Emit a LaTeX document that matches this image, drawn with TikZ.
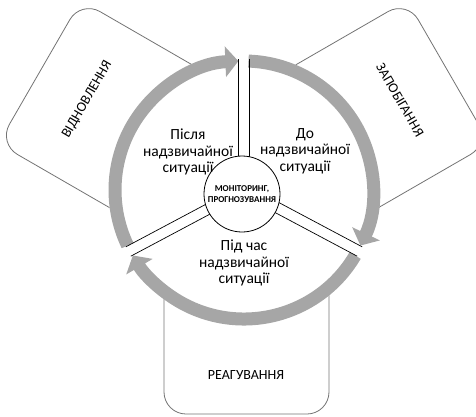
\documentclass[tikz,border=0pt]{standalone}
\usepackage{fontspec}
\setmainfont{Carlito}
\usetikzlibrary{arrows.meta}
\definecolor{ringgray}{RGB}{166,166,166}
\definecolor{boxgray}{RGB}{115,115,115}
\newcommand{\Rring}{129}
\newcommand{\Rout}{131}
\tikzstyle{phase} = [draw=boxgray, line width=0.8pt, rounded corners=22pt]
\tikzstyle{ring} = [draw=ringgray, line width=13pt]
\tikzstyle{cycle} = [ring, -{Triangle[width=30pt,length=13pt]}]
\tikzstyle{stage} = [align=center, font=\fontsize{15.5}{16.5}\selectfont]
\tikzstyle{phaselabel} = [font=\fontsize{14}{17}\selectfont]
\tikzstyle{divider} = [draw=black, line width=0.7pt]
\tikzstyle{hub} = [circle, draw=black, line width=0.8pt, fill=white, minimum size=76pt, inner sep=0pt, align=center, font=\bfseries\fontsize{9}{10.5}\selectfont]

\begin{document}
\begin{tikzpicture}[x=1pt,y=1pt]
\useasboundingbox (-244,-226) rectangle (232,190);

% Phase boxes (behind the ring)
\foreach \ang/\off/\len in {30/0/236, 150/0/236, 270/2.5/224}
  \draw[phase, rotate=\ang] (60,-82.5+\off) rectangle (\len,82.5+\off);
\fill[white] (0,0) circle (135.5);

\node[phaselabel, rotate=-60] (prev) at (30:180)  {ЗАПОБІГАННЯ};
\node[phaselabel, rotate=60]  (recv) at (150:181) {ВІДНОВЛЕННЯ};
\node[phaselabel]             (resp) at (2,-185)  {РЕАГУВАННЯ};

% Cycle arrows
\draw[cycle] (88:\Rring)    arc[start angle=88,    end angle=-25.5,  radius=\Rring];
\draw[cycle] (-30.5:\Rring) arc[start angle=-30.5, end angle=-149.5, radius=\Rring];
\draw[cycle] (205.5:\Rring) arc[start angle=205.5, end angle=92.5,   radius=\Rring];

% Dividers
\foreach \a in {90,-28,208} {
  \draw[divider] ([shift={(\a+90:5.3)}]\a:30) -- ([shift={(\a+90:5.3)}]\a:\Rout);
  \draw[divider] ([shift={(\a-90:5.3)}]\a:30) -- ([shift={(\a-90:5.3)}]\a:\Rout);
}

% Define nodes
\node[hub] (mon) at (-2,-4) {МОНІТОРИНГ,\\ПРОГНОЗУВАННЯ};
\node[stage] (after)  at (-56,38) {Після\\надзвичайної\\ситуації};
\node[stage] (before) at (61,39)  {До\\надзвичайної\\ситуації};
\node[stage] (during) at (0,-73)  {Під час\\надзвичайної\\ситуації};

\end{tikzpicture}
\end{document}
